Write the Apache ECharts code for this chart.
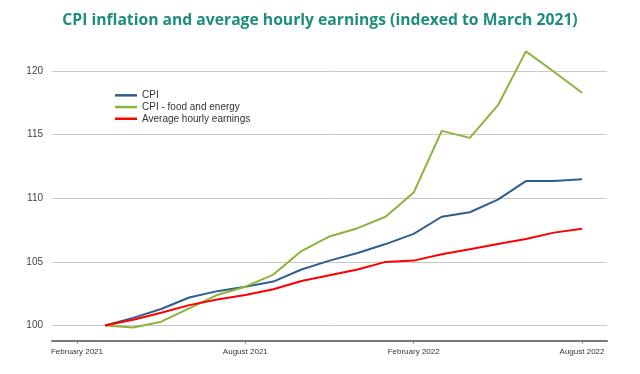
<!DOCTYPE html>
<html>
<head>
<meta charset="utf-8">
<script src="https://cdn.jsdelivr.net/npm/echarts@6/dist/echarts.min.js"></script>
<style>html,body{margin:0;padding:0;background:#fff;}#c{width:640px;height:374px;}</style>
</head>
<body>
<div id="c"></div>
<script>
// Months from March 2021 to August 2022 (index: February 2021 = 0)
var months = ['Mar 2021','Apr 2021','May 2021','Jun 2021','Jul 2021','Aug 2021','Sep 2021','Oct 2021','Nov 2021','Dec 2021',
  'Jan 2022','Feb 2022','Mar 2022','Apr 2022','May 2022','Jun 2022','Jul 2022','Aug 2022'];
var cpi = [100, 100.6, 101.3, 102.2, 102.7, 103.05, 103.45, 104.4, 105.1, 105.7, 106.4, 107.2, 108.55, 108.9, 109.9, 111.35, 111.35, 111.5];
var cpiFoodEnergy = [100, 99.85, 100.3, 101.35, 102.4, 103.05, 104.0, 105.85, 107.0, 107.65, 108.55, 110.45, 115.3, 114.75, 117.3, 121.55, 119.95, 118.3];
var earnings = [100, 100.45, 101.0, 101.6, 102.05, 102.4, 102.85, 103.5, 103.95, 104.4, 105.0, 105.1, 105.6, 106.0, 106.4, 106.8, 107.3, 107.6];
var xTickValues = [0, 6, 12, 18];
var xTickLabels = ['February 2021', 'August 2021', 'February 2022', 'August 2022'];
var yTickValues = [100, 105, 110, 115, 120];

function pts(arr) { return arr.map(function (v, i) { return [i + 1, v]; }); }

var chart = echarts.init(document.getElementById('c'));
chart.setOption({
  animation: false,
  backgroundColor: '#ffffff',
  title: {
    text: 'CPI inflation and average hourly earnings (indexed to March 2021)',
    left: 'center', top: 8,
    textStyle: { fontFamily: 'Open Sans', fontWeight: 'bold', fontSize: 15.7, color: '#1e8c7e' }
  },
  legend: {
    orient: 'vertical', left: 110, top: 84.5,
    icon: 'rect', itemWidth: 22, itemHeight: 2.5, itemGap: 0,
    textStyle: { fontFamily: 'Liberation Sans', fontSize: 10, color: '#333', lineHeight: 11.7 },
    data: ['CPI', 'CPI - food and energy', 'Average hourly earnings']
  },
  grid: { left: 52, right: 33, top: 45, bottom: 33.5, containLabel: false },
  xAxis: {
    type: 'value', min: -0.89, max: 18.89,
    axisLine: { show: true, lineStyle: { color: '#7a7a7a', width: 2 } },
    axisTick: { show: true, length: 3, customValues: xTickValues, lineStyle: { color: '#7a7a7a' } },
    axisLabel: {
      customValues: xTickValues, margin: 7,
      fontFamily: 'Liberation Sans', fontSize: 8, color: '#333',
      formatter: function (v) { var k = xTickValues.indexOf(Math.round(v)); return k >= 0 ? xTickLabels[k] : ''; }
    },
    splitLine: { show: false }
  },
  yAxis: {
    type: 'value', min: 98.82, max: 122.05,
    axisLine: { show: false },
    axisTick: { show: false, customValues: yTickValues },
    axisLabel: { customValues: yTickValues, margin: 9, fontFamily: 'Liberation Sans', fontSize: 10, color: '#444' },
    splitLine: { show: true, lineStyle: { color: '#c8c8c8', width: 1 } }
  },
  series: [
    { name: 'CPI', type: 'line', data: pts(cpi), symbol: 'none', lineStyle: { color: '#2e5f8e', width: 2 }, itemStyle: { color: '#2e5f8e' } },
    { name: 'CPI - food and energy', type: 'line', data: pts(cpiFoodEnergy), symbol: 'none', lineStyle: { color: '#8cb43c', width: 2 }, itemStyle: { color: '#8cb43c' } },
    { name: 'Average hourly earnings', type: 'line', data: pts(earnings), symbol: 'none', lineStyle: { color: '#ff0000', width: 2 }, itemStyle: { color: '#ff0000' } }
  ]
});
</script>
</body>
</html>
